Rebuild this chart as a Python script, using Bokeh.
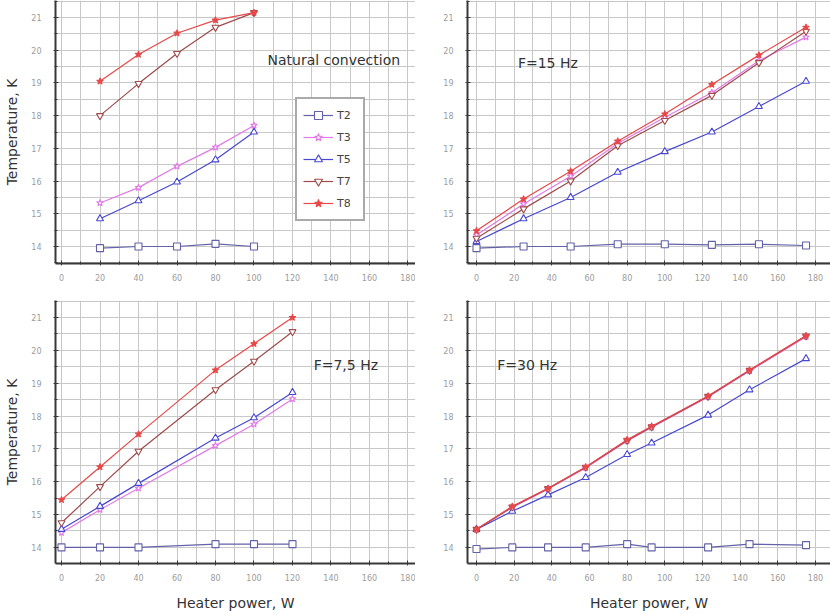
from bokeh.plotting import figure
from bokeh.layouts import row, column
from bokeh.models import Range1d, Label, Legend, LegendItem, FixedTicker
from bokeh.embed import file_html
from bokeh.resources import INLINE

# ---------------- data ----------------
series_names = ["T2", "T3", "T5", "T7", "T8"]
x_tick_values = [0, 20, 40, 60, 80, 100, 120, 140, 160, 180]
y_tick_values = [14, 15, 16, 17, 18, 19, 20, 21]

# Natural convection
nc_x = [20, 40, 60, 80, 100]
nc_T2 = [13.95, 14.0, 14.0, 14.08, 14.0]
nc_T3 = [15.33, 15.8, 16.45, 17.03, 17.7]
nc_T5 = [14.85, 15.4, 15.97, 16.65, 17.5]
nc_T7 = [18.0, 18.98, 19.9, 20.7, 21.15]
nc_T8 = [19.05, 19.87, 20.52, 20.92, 21.15]

# F=15 Hz
f15_x = [0, 25, 50, 75, 100, 125, 150, 175]
f15_T2 = [13.95, 14.0, 14.0, 14.07, 14.07, 14.05, 14.07, 14.03]
f15_T3 = [14.35, 15.3, 16.15, 17.15, 17.95, 18.7, 19.68, 20.4]
f15_T5 = [14.15, 14.85, 15.5, 16.27, 16.9, 17.5, 18.28, 19.05]
f15_T7 = [14.25, 15.15, 16.0, 17.08, 17.85, 18.62, 19.62, 20.58]
f15_T8 = [14.48, 15.45, 16.3, 17.22, 18.05, 18.95, 19.85, 20.7]

# F=7,5 Hz
f75_x = [0, 20, 40, 80, 100, 120]
f75_T2 = [14.0, 14.0, 14.0, 14.1, 14.1, 14.1]
f75_T3 = [14.45, 15.15, 15.8, 17.1, 17.75, 18.52]
f75_T5 = [14.55, 15.25, 15.95, 17.33, 17.95, 18.72]
f75_T7 = [14.75, 15.85, 16.93, 18.8, 19.67, 20.57]
f75_T8 = [15.45, 16.45, 17.45, 19.4, 20.2, 21.0]

# F=30 Hz
f30_x = [0, 19, 38, 58, 80, 93, 123, 145, 175]
f30_T2 = [13.95, 14.0, 14.0, 14.0, 14.1, 14.0, 14.0, 14.1, 14.07]
f30_T3 = [14.55, 15.22, 15.78, 16.42, 17.24, 17.65, 18.58, 19.37, 20.42]
f30_T5 = [14.55, 15.1, 15.6, 16.13, 16.83, 17.18, 18.03, 18.8, 19.75]
f30_T7 = [14.55, 15.23, 15.79, 16.44, 17.26, 17.67, 18.6, 19.39, 20.44]
f30_T8 = [14.55, 15.25, 15.8, 16.45, 17.28, 17.69, 18.61, 19.4, 20.45]

# ---------------- styles ----------------
colors = {"T2": "#6262a8", "T3": "#e27ae6", "T5": "#4848d2", "T7": "#a04a4a", "T8": "#e84848"}
markers = {"T2": "square", "T3": "star", "T5": "triangle", "T7": "inverted_triangle", "T8": "star"}
fills = {"T2": "white", "T3": "white", "T5": "white", "T7": "white", "T8": "#e84848"}

FONT = "DejaVu Sans"


def make_panel(width, height, mbl, mbb, xr, yr, ylabel, xlabel):
    p = figure(width=width, height=height, output_backend="svg", toolbar_location=None,
               x_range=Range1d(*xr), y_range=Range1d(*yr),
               min_border_left=mbl, min_border_right=0, min_border_top=0,
               min_border_bottom=mbb)
    p.outline_line_color = None
    p.background_fill_color = "white"
    p.border_fill_color = "white"
    p.xaxis.ticker = FixedTicker(ticks=x_tick_values,
                                 minor_ticks=[v + 10 for v in x_tick_values] + [-10])
    p.yaxis.ticker = FixedTicker(ticks=y_tick_values,
                                 minor_ticks=[v + 0.5 for v in y_tick_values] + [13.5])
    for ax in (p.xaxis[0], p.yaxis[0]):
        ax.axis_line_color = "#383838"
        ax.axis_line_width = 2
        ax.major_tick_line_color = "#383838"
        ax.minor_tick_line_color = "#383838"
        ax.major_tick_in = 3
        ax.major_tick_out = 2
        ax.minor_tick_in = 2
        ax.minor_tick_out = 1
        ax.major_label_text_font = FONT
        ax.major_label_text_font_size = "8px"
        ax.major_label_text_color = "#9c9c9c"
        ax.axis_label_text_font = FONT
        ax.axis_label_text_font_size = "14px"
        ax.axis_label_text_font_style = "normal"
        ax.axis_label_text_color = "#333333"
    p.xaxis.major_label_standoff = 8
    p.yaxis.major_label_standoff = 12
    p.xaxis.axis_label_standoff = 11
    p.yaxis.axis_label_standoff = 8
    if ylabel:
        p.yaxis.axis_label = ylabel
    if xlabel:
        p.xaxis.axis_label = xlabel
    for g in (p.xgrid[0], p.ygrid[0]):
        g.grid_line_color = "#c8c8c8"
        g.grid_line_width = 1
        g.minor_grid_line_color = "#c8c8c8"
        g.minor_grid_line_width = 1
    return p


def add_series(p, x, ys):
    items = []
    for name, y in zip(series_names, ys):
        lr = p.line(x, y, line_color=colors[name], line_width=1.2)
        sr = p.scatter(x, y, marker=markers[name], size=7, line_color=colors[name],
                       fill_color=fills[name], line_width=1.1)
        items.append(LegendItem(label=name, renderers=[lr, sr]))
    return items


def add_label(p, x, y, text):
    p.add_layout(Label(x=x, y=y, text=text, text_font=FONT, text_font_size="14px",
                       text_color="#333333", text_baseline="middle"))


W = 415
top_yr = (13.48, 21.52)
bot_yr = (13.51, 21.52)
left_xr = (-3.12, 183.9)
right_xr = (-4.78, 188.0)

p1 = make_panel(W, 300, 55, 37, left_xr, top_yr, "Temperature, K", None)
items = add_series(p1, nc_x, [nc_T2, nc_T3, nc_T5, nc_T7, nc_T8])
add_label(p1, 107, 19.7, "Natural convection")
legend = Legend(items=items, location=(240, 42), border_line_color="#555555",
                border_line_width=2, background_fill_color="white", background_fill_alpha=1,
                label_text_font=FONT, label_text_font_size="11px", label_text_color="#444444",
                glyph_width=30, glyph_height=20, label_height=20, spacing=2, padding=6,
                margin=0, label_standoff=4)
p1.add_layout(legend)

p2 = make_panel(W, 300, 52, 37, right_xr, top_yr, None, None)
add_series(p2, f15_x, [f15_T2, f15_T3, f15_T5, f15_T7, f15_T8])
add_label(p2, 22, 19.6, "F=15 Hz")

p3 = make_panel(W, 314, 55, 51, left_xr, bot_yr, "Temperature, K", "Heater power, W")
add_series(p3, f75_x, [f75_T2, f75_T3, f75_T5, f75_T7, f75_T8])
add_label(p3, 131, 19.56, "F=7,5 Hz")

p4 = make_panel(W, 314, 52, 51, right_xr, bot_yr, None, "Heater power, W")
add_series(p4, f30_x, [f30_T2, f30_T3, f30_T5, f30_T7, f30_T8])
add_label(p4, 11, 19.56, "F=30 Hz")

layout = column(row(p1, p2), row(p3, p4))

with open("out.html", "w") as f:
    f.write(file_html(layout, INLINE))
